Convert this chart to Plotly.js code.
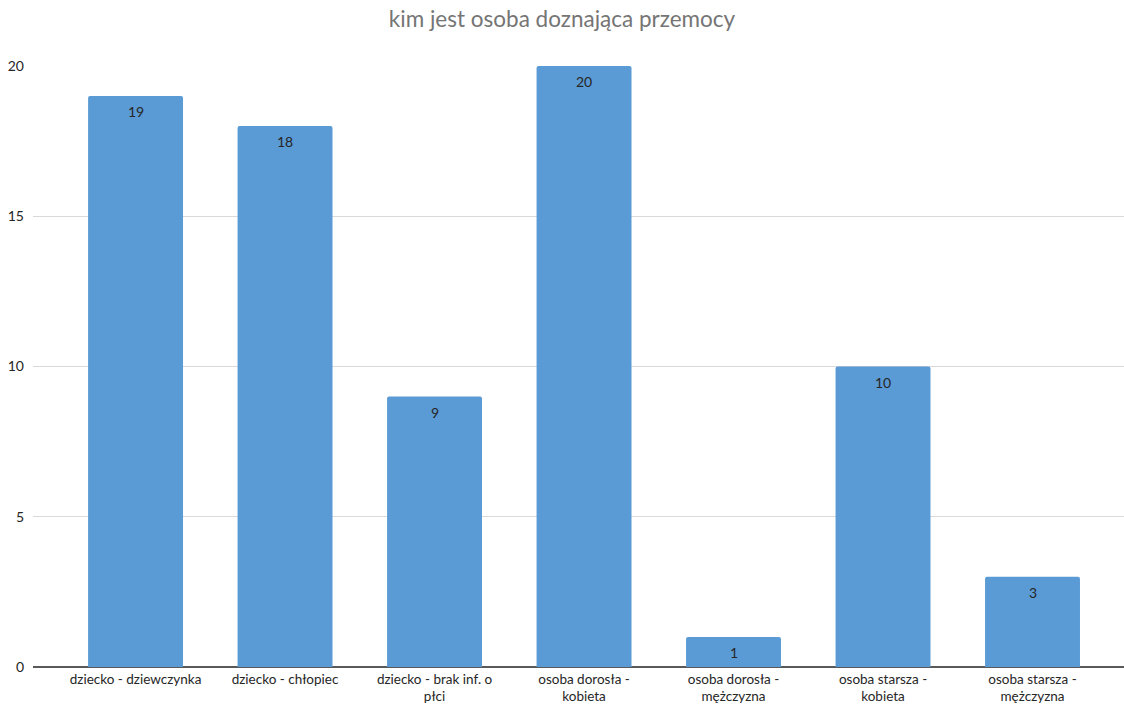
<!DOCTYPE html>
<html>
<head>
<meta charset="utf-8">
<script src="https://cdn.plot.ly/plotly-3.0.1.min.js"></script>
<style>
  html, body { margin: 0; padding: 0; background: #ffffff; }
  #chart { width: 1124px; height: 705px; }
</style>
</head>
<body>
<div id="chart"></div>
<script>
// Categories of people experiencing violence and their counts
const categories = [
  "dziecko - dziewczynka",
  "dziecko - chłopiec",
  "dziecko - brak inf. o<br>płci",
  "osoba dorosła -<br>kobieta",
  "osoba dorosła -<br>mężczyzna",
  "osoba starsza -<br>kobieta",
  "osoba starsza -<br>mężczyzna"
];
const counts = [19, 18, 9, 20, 1, 10, 3];
const yTicks = [0, 5, 10, 15, 20];

const FONT = "Lato, 'Open Sans', sans-serif";
const xIdx = categories.map((_, i) => i);

const trace = {
  type: "bar",
  x: xIdx,
  y: counts,
  width: 0.635,
  marker: { color: "#5b9bd5", cornerradius: 2, line: { width: 0 } },
  hoverinfo: "skip"
};

// Value labels just inside the top of each bar
const valueLabels = counts.map((v, i) => ({
  x: i,
  y: v,
  xref: "x",
  yref: "y",
  text: String(v),
  showarrow: false,
  yanchor: "top",
  yshift: -5,
  font: { family: FONT, size: 14, color: "#262626" }
}));

const layout = {
  width: 1124,
  height: 705,
  margin: { l: 33, r: 0, t: 66, b: 38 },
  paper_bgcolor: "#ffffff",
  plot_bgcolor: "#ffffff",
  showlegend: false,
  title: {
    text: "kim jest osoba doznająca przemocy",
    font: { family: FONT, size: 22.5, color: "#757575" },
    x: 0.5, xanchor: "center",
    y: 0.984, yanchor: "top"
  },
  annotations: valueLabels,
  xaxis: {
    range: [-0.686, 6.612],
    tickmode: "array",
    tickvals: xIdx,
    ticktext: categories,
    tickangle: 0,
    showgrid: false,
    zeroline: false,
    showline: false,
    ticks: "",
    ticklabelstandoff: 2,
    tickfont: { family: FONT, size: 13.5, color: "#262626" }
  },
  yaxis: {
    range: [0, 20],
    tickmode: "array",
    tickvals: yTicks,
    ticktext: yTicks.map(String),
    showgrid: true,
    gridcolor: "#d9d9d9",
    gridwidth: 1.3,
    zeroline: true,
    zerolinecolor: "#595959",
    zerolinewidth: 1.5,
    showline: false,
    ticks: "",
    ticklabelstandoff: 8,
    tickfont: { family: FONT, size: 14, color: "#262626" }
  }
};

Plotly.newPlot("chart", [trace], layout, { displayModeBar: false, staticPlot: true });
</script>
</body>
</html>
